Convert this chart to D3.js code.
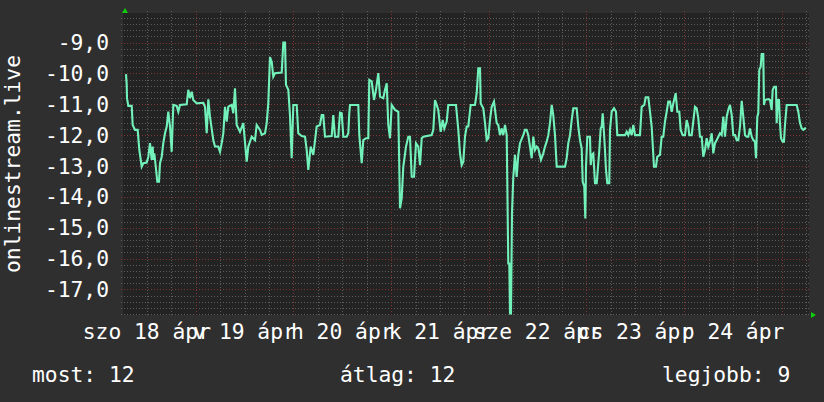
<!DOCTYPE html>
<html>
<head>
<meta charset="utf-8">
<script src="https://cdn.jsdelivr.net/npm/d3@7"></script>
<style>
html,body{margin:0;padding:0;background:#2f2f2f;}
svg{display:block;}
text{font-family:"DejaVu Sans Mono",monospace;fill:#ffffff;}
</style>
</head>
<body>
<div id="chart"></div>
<script>
// ---- data ----
// hours since 2020-04-18 00:00
const hours = [6.88,7.05,7.12,7.44,8.28,8.52,9.09,9.75,10.15,10.73,
11.13,11.96,12.36,12.77,13.19,13.44,13.58,13.83,14.17,14.57,
14.98,15.23,15.65,16.04,16.46,16.88,17.27,17.69,18.10,18.50,
19.33,19.73,20.14,21.79,22.18,22.60,23.02,23.41,24.25,25.87,
26.28,26.70,27.10,27.51,28.32,28.74,29.55,29.97,30.39,30.78,
31.20,31.62,32.01,32.84,33.24,33.65,34.07,34.88,35.69,36.53,
36.92,37.76,38.57,38.98,39.80,40.21,41.02,41.44,41.83,42.25,
42.67,43.06,43.48,45.13,45.52,45.94,46.18,46.75,47.16,47.58,
47.98,48.81,49.20,50.04,50.85,51.27,51.66,52.25,52.89,53.72,
54.53,54.95,55.34,55.76,57.41,57.80,58.22,59.03,59.45,59.87,
60.26,61.09,61.49,61.73,61.90,63.94,64.19,64.78,65.17,65.83,
66.40,66.64,67.23,67.80,68.29,68.86,69.27,70.08,70.50,70.92,
71.31,71.73,72.15,72.96,73.77,74.19,74.60,75.00,75.66,76.22,
76.64,77.06,77.63,78.12,78.68,79.10,79.52,79.91,81.97,82.37,
82.78,83.20,83.59,84.18,84.68,85.07,85.66,86.05,87.94,88.51,
88.93,89.34,89.74,90.15,90.57,90.96,91.55,92.61,93.03,93.42,
93.84,94.01,94.65,95.07,95.48,95.88,96.29,96.71,97.28,97.94,
98.33,98.75,99.17,99.56,99.98,100.40,100.79,101.04,101.21,101.45,
101.70,102.02,102.44,102.85,103.25,103.66,104.47,104.89,105.31,105.70,
106.54,106.93,107.35,107.77,108.16,108.82,109.39,109.81,110.22,110.62,
111.03,111.45,111.84,112.26,112.68,114.72,115.13,115.53,115.95,116.36,
116.76,117.59,117.99,118.40,118.82,119.07,119.46,119.71,119.88,120.20,
120.86,121.04,121.28,121.67,122.09,122.51,122.90,123.15,123.49,123.73,
123.98,124.30,124.54,124.79,125.11,125.60,125.77,126.19,126.76,127.25,
127.57,129.46,129.88,130.27,130.69,131.10,131.50,131.92,133.14,133.56,
134.20,134.54,135.18,135.60,136.01,136.58,137.07,137.39,138.05,138.47,
138.86,139.28,139.70,140.09,140.51,140.93,141.32,141.91,142.31,142.80,
143.14,143.63,144.20,144.61,145.01,145.25,145.84,146.23,146.65,147.07,
147.46,147.88,148.30,148.69,149.11,149.53,149.92,150.34,150.76,151.15,
151.57,151.99,152.38,152.79,153.21,153.61,154.02,154.44,154.83,155.25,
155.67,156.06,156.48,156.90,157.29,157.71,158.13,158.52,158.94,159.36,
159.75,160.16,160.58,160.98,161.39,161.64,161.96,162.20,162.45,162.79,
163.04,163.43,163.60,163.85,164.66,165.08,165.49,165.74,166.13,166.55,
166.72,166.97,167.29,167.53,167.78,168.20,168.51,168.76,169.18,171.64,
172.03,172.45,172.87,173.26,173.67,173.92];
// rank (position) at each time; plotted as negative
const ranks = [10.02,10.37,10.80,11.05,11.05,11.67,11.83,11.83,12.48,13.02,
12.91,12.89,12.70,12.26,12.80,12.37,12.80,12.59,13.00,13.51,
13.51,12.91,12.70,12.26,11.94,11.72,11.24,11.72,12.54,11.02,
11.05,11.24,11.02,11.00,10.53,10.80,10.59,10.86,10.97,10.95,
11.08,11.94,10.84,11.40,12.16,12.37,12.37,12.54,12.26,11.94,
11.08,11.56,11.08,11.02,11.29,10.48,11.67,11.89,11.61,12.86,
12.37,12.05,12.16,11.67,11.83,11.99,11.94,11.61,10.97,9.47,
9.62,10.10,9.99,9.97,9.00,9.00,10.37,10.53,11.35,12.75,
11.02,11.02,11.94,12.03,12.05,12.48,13.13,12.37,12.64,11.72,
11.67,11.35,11.35,12.05,12.03,11.35,12.05,12.05,11.27,11.29,
12.05,12.05,11.94,11.29,11.02,11.02,12.00,12.91,12.16,12.10,
12.10,10.21,10.26,10.86,10.53,9.99,10.75,10.80,10.53,10.32,
11.67,12.10,11.02,11.18,11.24,14.37,14.05,13.02,12.37,12.05,
12.05,13.35,13.35,12.26,12.37,12.97,12.10,12.05,12.00,11.83,
10.86,11.02,11.18,11.89,11.51,11.78,11.56,11.02,11.02,11.83,
12.59,12.97,12.86,12.05,11.72,11.72,11.02,11.02,10.64,9.83,
9.83,10.97,11.13,11.61,12.16,12.10,11.51,11.08,10.91,11.61,
11.67,12.00,11.78,12.00,11.67,12.00,16.16,16.16,17.78,17.78,
14.53,13.35,12.64,13.35,12.64,12.26,12.00,11.83,11.83,12.00,
12.75,12.05,12.48,12.37,12.43,12.80,12.59,12.37,12.21,12.00,
11.61,11.02,11.35,12.00,13.02,13.02,12.75,12.26,12.00,11.51,
11.13,11.13,11.72,12.16,12.43,13.51,13.67,14.70,13.02,12.05,
12.05,12.97,12.64,12.59,13.56,13.56,12.91,12.48,11.78,11.72,
11.29,11.94,12.48,13.13,13.56,13.56,11.83,11.24,11.13,11.24,
12.00,12.00,11.89,12.00,11.83,12.00,11.67,12.00,12.00,11.08,
11.02,10.77,10.77,11.24,11.72,13.02,13.02,12.70,12.64,12.05,
12.05,11.56,11.24,10.91,10.91,11.24,10.97,10.64,11.24,11.24,
11.83,12.00,12.00,11.51,11.72,12.00,12.00,11.56,11.08,11.13,
11.45,12.05,12.05,12.70,12.48,12.10,12.37,12.21,11.94,12.59,
12.26,12.16,12.05,11.94,12.00,11.40,12.05,11.40,11.18,11.02,
11.35,12.00,12.00,12.16,12.16,11.72,10.89,11.40,12.00,12.05,
12.05,11.78,12.05,12.16,12.21,12.75,11.40,11.29,9.88,9.78,
9.37,9.37,11.02,10.86,10.83,10.86,11.18,10.53,10.43,10.43,
11.61,10.86,10.86,11.61,12.10,12.21,12.21,11.67,11.02,11.02,
11.24,11.61,11.78,11.83,11.78,11.78];

const dayLabels = ["szo 18 ápr","v 19 ápr","h 20 ápr","k 21 ápr","sze 22 ápr","cs 23 ápr","p 24 ápr"];
const dayNoons = [12,36,60,84,108,132,156];          // hours of label centers
const yTicks = [-9,-10,-11,-12,-13,-14,-15,-16,-17];
const yTitle = "onlinestream.live";
const legendNames = ["most","átlag","legjobb"];
const legendValues = [12,12,9];

// ---- layout ----
const W = 824, H = 402;
const L = 123, R = 809, T = 13, B = 315;
const FS = "21.3px";
const svg = d3.select("#chart").append("svg").attr("width",W).attr("height",H);
svg.append("rect").attr("width",W).attr("height",H).attr("fill","#2f2f2f");
svg.append("rect").attr("x",L).attr("y",T).attr("width",R-L).attr("height",B-T).attr("fill","#232323");

const x = d3.scaleLinear().domain([6.14,174.66]).range([L,R]);
const y = d3.scaleLinear().domain([-17.83,-8.04]).range([B,T]);

// grid
const g = svg.append("g");
const minorH = d3.range(-17.8,-8.1,0.2).map(v=>Math.round(v*10)/10).filter(v=>Math.abs(v-Math.round(v))>1e-6);
g.selectAll(".hmin").data(minorH).join("line")
  .attr("x1",L-2).attr("x2",R+2).attr("y1",d=>Math.round(y(d))+0.5).attr("y2",d=>Math.round(y(d))+0.5)
  .attr("stroke","#5c5c5c").attr("stroke-width",1).attr("stroke-dasharray","1,2");
const minorV = d3.range(12,175,6).filter(h=>h%24!==0);
g.selectAll(".vmin").data(minorV).join("line")
  .attr("y1",T-2).attr("y2",B+2).attr("x1",d=>Math.round(x(d))+0.5).attr("x2",d=>Math.round(x(d))+0.5)
  .attr("stroke","#5c5c5c").attr("stroke-width",1).attr("stroke-dasharray","1,2");
g.selectAll(".hmaj").data(yTicks).join("line")
  .attr("x1",L-2).attr("x2",R+2).attr("y1",d=>Math.round(y(d))+0.5).attr("y2",d=>Math.round(y(d))+0.5)
  .attr("stroke","#7e3434").attr("stroke-width",1).attr("stroke-dasharray","1,2");
const majorV = d3.range(24,175,24);
g.selectAll(".vmaj").data(majorV).join("line")
  .attr("y1",T-2).attr("y2",B+2).attr("x1",d=>Math.round(x(d))+0.5).attr("x2",d=>Math.round(x(d))+0.5)
  .attr("stroke","#7e3434").attr("stroke-width",1).attr("stroke-dasharray","1,2");

// axes labels
const fmt = d => d3.format(".1f")(d).replace(".",",").replace("−","-");
svg.selectAll(".yl").data(yTicks).join("text")
  .attr("x",109).attr("y",d=>y(d)+7.5).attr("text-anchor","end")
  .style("font-size",FS).text(fmt);
svg.selectAll(".xl").data(dayNoons).join("text")
  .attr("x",d=>x(d)).attr("y",338.5).attr("text-anchor","middle")
  .style("font-size",FS).text((d,i)=>dayLabels[i]);
svg.append("text").attr("transform","translate(20,164) rotate(-90)")
  .attr("text-anchor","middle").style("font-size",FS).text(yTitle);

// line
const pts = hours.map((h,i)=>[h,-ranks[i]]);
svg.append("path").datum(pts)
  .attr("d",d3.line().x(d=>x(d[0])).y(d=>y(d[1])))
  .attr("fill","none").attr("stroke","#72f2ba").attr("stroke-width",2.1).attr("stroke-linejoin","miter");

// arrows
svg.append("path").attr("d",`M${L-1},${T} L${L+2},${T-5} L${L+5},${T} Z`).attr("fill","#11cc11");
svg.append("path").attr("d",`M${R+2},${B-3} L${R+7},${B} L${R+2},${B+3} Z`).attr("fill","#11cc11");

// legend
const legX = [32,340,662];
svg.selectAll(".lg").data(legendNames).join("text")
  .attr("x",(d,i)=>legX[i]).attr("y",382).style("font-size",FS)
  .text((d,i)=>`${d}: ${legendValues[i]}`);
</script>
</body>
</html>
